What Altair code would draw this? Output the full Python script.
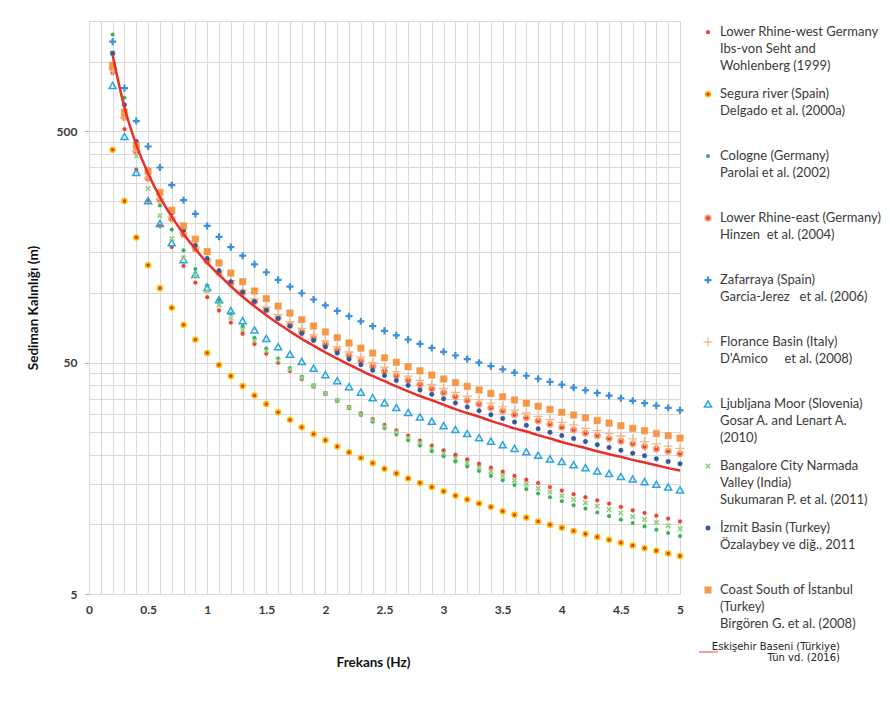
import altair as alt
import pandas as pd

# ---------------- data ----------------
freq = [0.2, 0.3, 0.4, 0.5, 0.6, 0.7, 0.8, 0.9, 1.0,
        1.1, 1.2, 1.3, 1.4, 1.5, 1.6, 1.7, 1.8, 1.9, 2.0,
        2.1, 2.2, 2.3, 2.4, 2.5, 2.6, 2.7, 2.8, 2.9, 3.0,
        3.1, 3.2, 3.3, 3.4, 3.5, 3.6, 3.7, 3.8, 3.9, 4.0,
        4.1, 4.2, 4.3, 4.4, 4.5, 4.6, 4.7, 4.8, 4.9, 5.0]

ibs_1999 = [896, 511, 342, 251, 195, 158, 131, 111, 96.0,
            84.1, 74.5, 66.7, 60.2, 54.7, 50.0, 46.0, 42.5, 39.4, 36.7,
            34.3, 32.1, 30.2, 28.5, 26.9, 25.5, 24.2, 23.0, 21.9, 20.9,
            20.0, 19.1, 18.3, 17.6, 16.9, 16.2, 15.6, 15.1, 14.5, 14.0,
            13.5, 13.1, 12.7, 12.3, 11.9, 11.5, 11.2, 10.9, 10.6, 10.3]
delgado_2000 = [416, 250, 174, 132, 105, 86.3, 72.9, 62.9, 55.1,
                48.9, 43.8, 39.6, 36.1, 33.1, 30.5, 28.3, 26.3, 24.6, 23.1,
                21.7, 20.5, 19.4, 18.4, 17.4, 16.6, 15.8, 15.1, 14.5, 13.9,
                13.3, 12.8, 12.3, 11.9, 11.4, 11.0, 10.7, 10.3, 9.97, 9.66,
                9.37, 9.09, 8.82, 8.57, 8.33, 8.11, 7.89, 7.69, 7.49, 7.30]
parolai_2002 = [1311, 699, 447, 316, 239, 188, 153, 127, 108,
                93.2, 81.4, 71.9, 64.1, 57.6, 52.1, 47.4, 43.4, 39.9, 36.9,
                34.2, 31.8, 29.7, 27.8, 26.1, 24.5, 23.1, 21.9, 20.7, 19.7,
                18.7, 17.8, 17.0, 16.2, 15.5, 14.8, 14.2, 13.6, 13.1, 12.6,
                12.1, 11.7, 11.25, 10.85, 10.48, 10.13, 9.80, 9.48, 9.18, 8.90]
hinzen_2004 = [930, 574, 408, 313, 252, 209, 179, 155, 137,
               122, 110, 100, 91.8, 84.6, 78.3, 72.9, 68.1, 63.8, 60.0,
               56.7, 53.6, 50.9, 48.3, 46.0, 43.9, 42.0, 40.2, 38.6, 37.1,
               35.6, 34.3, 33.1, 31.9, 30.9, 29.8, 28.9, 28.0, 27.1, 26.3,
               25.6, 24.8, 24.2, 23.5, 22.9, 22.3, 21.7, 21.2, 20.7, 20.2]
garcia_2006 = [1222, 769, 554, 430, 349, 293, 252, 220, 195,
               175, 158, 145, 133, 123, 114, 106.5, 99.8, 93.8, 88.5,
               83.7, 79.4, 75.5, 71.9, 68.6, 65.6, 62.9, 60.3, 57.9, 55.7,
               53.7, 51.8, 50.0, 48.3, 46.8, 45.3, 43.9, 42.6, 41.3, 40.2,
               39.0, 38.0, 37.0, 36.0, 35.1, 34.2, 33.4, 32.6, 31.9, 31.1]
damico_2008 = [923, 574, 410, 315, 255, 213, 182, 158, 140,
               125, 113, 103, 94.4, 87.1, 80.7, 75.2, 70.3, 66.0, 62.1,
               58.7, 55.6, 52.8, 50.2, 47.8, 45.7, 43.7, 41.9, 40.3, 38.7,
               37.2, 35.8, 34.6, 33.4, 32.3, 31.2, 30.3, 29.3, 28.4, 27.6,
               26.9, 26.0, 25.4, 24.7, 24.1, 23.4, 22.8, 22.3, 21.8, 21.3]
gosar_2010 = [789, 475, 332, 251, 200, 165, 139.5, 120.4, 105.5,
              93.7, 84.0, 76.0, 69.3, 63.6, 58.6, 54.4, 50.6, 47.3, 44.4,
              41.8, 39.4, 37.3, 35.3, 33.6, 32.0, 30.5, 29.1, 27.9, 26.7,
              25.7, 24.7, 23.7, 22.9, 22.1, 21.3, 20.6, 19.9, 19.2, 18.7,
              18.1, 17.6, 17.0, 16.6, 16.1, 15.7, 15.3, 14.9, 14.5, 14.1]
sukumaran_2011 = [1087, 599, 392, 283, 216, 172, 142, 119, 102,
                  88.7, 78.0, 69.4, 62.2, 56.2, 51.1, 46.8, 43.0, 39.7, 36.8,
                  34.3, 32.0, 30.0, 28.2, 26.5, 25.0, 23.7, 22.5, 21.3, 20.3,
                  19.3, 18.4, 17.6, 16.9, 16.2, 15.5, 14.9, 14.3, 13.8, 13.3,
                  12.8, 12.4, 12.0, 11.6, 11.2, 10.8, 10.5, 10.2, 9.87, 9.57]
ozalaybey_2011 = [1089, 651, 452, 340, 270, 222, 187, 161, 141,
                  125, 112, 101, 92.0, 84.3, 77.6, 71.9, 66.8, 62.4, 58.5,
                  55.0, 51.8, 49.0, 46.4, 44.0, 41.9, 39.9, 38.1, 36.5, 34.9,
                  33.5, 32.2, 31.0, 29.8, 28.7, 27.7, 26.8, 25.9, 25.0, 24.2,
                  23.5, 22.8, 22.1, 21.5, 20.9, 20.3, 19.8, 19.2, 18.7, 18.3]
birgoren_2008 = [966, 605, 434, 336, 272, 228, 195, 171, 151,
                 135, 122, 112, 102, 94.6, 87.8, 81.9, 76.7, 72.0, 67.9,
                 64.2, 60.8, 57.8, 55.0, 52.5, 50.2, 48.0, 46.1, 44.2, 42.5,
                 41.0, 39.5, 38.1, 36.8, 35.6, 34.5, 33.4, 32.4, 31.4, 30.5,
                 29.7, 28.9, 28.1, 27.4, 26.7, 26.0, 25.4, 24.7, 24.2, 23.6]
tun_2016 = [1068, 634, 438, 329, 260, 214, 180, 155, 135,
            120, 107, 96.4, 87.6, 80.2, 73.8, 68.3, 63.4, 59.2, 55.4,
            52.1, 49.0, 46.3, 43.8, 41.6, 39.5, 37.6, 35.9, 34.4, 32.9,
            31.5, 30.3, 29.2, 28.0, 27.0, 26.0, 25.2, 24.3, 23.5, 22.7,
            22.0, 21.4, 20.7, 20.1, 19.6, 19.0, 18.5, 18.0, 17.5, 17.1]

NB = "\u00a0"
series_keys = ["ibs", "delgado", "parolai", "hinzen", "garcia", "damico",
               "gosar", "sukumaran", "ozalaybey", "birgoren"]
series_labels = [
    "Lower Rhine-west Germany\nIbs-von Seht and\nWohlenberg (1999)",
    "Segura river (Spain)\nDelgado et al. (2000a)",
    "Cologne (Germany)\nParolai et al. (2002)",
    "Lower Rhine-east (Germany)\nHinzen" + NB + NB + "et al. (2004)",
    "Zafarraya (Spain)\nGarcia-Jerez" + NB * 3 + "et al. (2006)",
    "Florance Basin (Italy)\nD'Amico" + NB * 5 + "et al. (2008)",
    "Ljubljana Moor (Slovenia)\nGosar A. and Lenart A.\n(2010)",
    "Bangalore City Narmada\nValley (India)\nSukumaran P. et al. (2011)",
    "İzmit Basin (Turkey)\nÖzalaybey ve diğ., 2011",
    "Coast South of İstanbul\n(Turkey)\nBirgören G. et al. (2008)",
]
line_label = "Eskişehir Baseni (Türkiye)\nTün vd. (2016)"
series_values = [ibs_1999, delgado_2000, parolai_2002, hinzen_2004, garcia_2006,
                 damico_2008, gosar_2010, sukumaran_2011, ozalaybey_2011, birgoren_2008]

y_grid = [5, 10, 15, 20, 25, 30, 35, 40, 45, 50, 100, 150, 200, 250, 300, 350,
          400, 450, 500, 1000, 1500]
y_labels = [5, 50, 500]
x_grid = [round(i / 10, 1) for i in range(51)]

# ---------------- styles ----------------
fills = ["#ee4035", "#e8352a", "#38ad5c", "#e8413a", "transparent", "transparent",
         "transparent", "transparent", "#33589c", "#f79646"]
strokes = ["#ee4035", "#f7c200", "#38ad5c", "#f4a36f", "#3d8fd8", "#f7b487",
           "#27a6e0", "#8fd081", "#33589c", "#f79646"]
plus_path = "M-1,0H1M0,-1V1"
x_path = "M-1,-1L1,1M-1,1L1,-1"
shapes = ["circle", "circle", "circle", "circle", plus_path, plus_path,
          "triangle-up", x_path, "circle", "square"]
sizes = [14, 24, 13, 30, 50, 80, 50, 20, 20, 42]
widths = [0.5, 1.6, 0.5, 1.8, 2.2, 1.3, 1.5, 1.6, 0.5, 0.5]
line_red = "#e8302a"
txt = "#3a3a3a"
font = "Lato"


def sc(rng, typ=None):
    if typ:
        return alt.Scale(type=typ, domain=series_keys, range=rng)
    return alt.Scale(domain=series_keys, range=rng)


def style_enc():
    return dict(
        fill=alt.Fill("series:N", scale=sc(fills), legend=None),
        stroke=alt.Stroke("series:N", scale=sc(strokes), legend=None),
        shape=alt.Shape("series:N", scale=sc(shapes), legend=None),
        size=alt.Size("series:N", scale=sc(sizes, "ordinal"), legend=None),
        strokeWidth=alt.StrokeWidth("series:N", scale=sc(widths, "ordinal"), legend=None),
    )


records = []
for key, vals in zip(series_keys, series_values):
    for f, v in zip(freq, vals):
        records.append({"series": key, "f": f, "h": v})
points = pd.DataFrame(records)
line_df = pd.DataFrame({"f": freq, "h": tun_2016})

x_axis = alt.Axis(
    values=x_grid, format=".1~f",
    labelExpr="abs(datum.value * 2 - round(datum.value * 2)) < 0.001 ? datum.label : ''",
    labelFlush=False, labelOverlap=False, labelFont=font, labelFontSize=12,
    labelFontWeight="bold", labelColor=txt, labelPadding=6,
    tickSize=4, tickColor="transparent",
    gridColor="#d9d9d9", gridWidth=1, domainColor="#d9d9d9",
    title="Frekans (Hz)", titleFont=font, titleFontSize=13.5, titleFontWeight="bold",
    titleColor="#111111", titlePadding=40, titleX=284,
)
y_axis = alt.Axis(
    values=y_grid, format="d",
    labelExpr="indexof(%s, datum.value) >= 0 ? datum.label : ''" % str(y_labels),
    labelOverlap=False, labelFlush=False, labelFont=font, labelFontSize=12,
    labelFontWeight="bold", labelColor=txt, labelPadding=8,
    tickSize=4,
    tickColor={"condition": {"test": "indexof(%s, datum.value) >= 0" % str(y_labels),
                             "value": "#a6a6a6"}, "value": "transparent"},
    gridColor="#d9d9d9", gridWidth=1, domainColor="#d9d9d9",
    title="Sediman Kalınlığı (m)", titleFont=font, titleFontSize=13.5,
    titleFontWeight="bold", titleColor="#111111", titlePadding=16,
)


def x_enc():
    return alt.X("f:Q", scale=alt.Scale(domain=[0, 5], nice=False, zero=False), axis=x_axis)


def y_enc():
    return alt.Y("h:Q", scale=alt.Scale(type="log", domain=[5, 1500], nice=False), axis=y_axis)


pts = alt.Chart(points).mark_point(opacity=1).encode(x=x_enc(), y=y_enc(), **style_enc())
ln = alt.Chart(line_df).mark_line(color=line_red, strokeWidth=2.5, interpolate="monotone").encode(
    x=x_enc(), y=y_enc())
plot = alt.layer(pts, ln).properties(
    width=591, height=573,
    view=alt.ViewBackground(stroke="#d9d9d9", strokeWidth=1),
)

# ---------------- legend panel ----------------
leg = pd.DataFrame({"idx": list(range(len(series_keys))), "series": series_keys,
                    "label": series_labels})
leg_line = pd.DataFrame({"idx": [len(series_keys)], "label": [line_label]})
leg_y = alt.Y("idx:Q", scale=alt.Scale(domain=[-0.18, 10.42], reverse=True, nice=False, zero=False),
              axis=None)

leg_sym = alt.Chart(leg).mark_point(opacity=1).encode(x=alt.value(18), y=leg_y, **style_enc())
leg_txt = alt.Chart(leg).mark_text(
    align="left", baseline="top", lineBreak="\n", lineHeight=17,
    font=font, fontSize=13, color=txt, dy=-6,
).encode(x=alt.value(30), y=leg_y, text="label:N")
leg_rule = alt.Chart(leg_line).mark_rule(color="#f07070", strokeWidth=1.3).encode(
    x=alt.value(9), x2=alt.value(28), y=leg_y)
leg_ltxt = alt.Chart(leg_line).mark_text(
    align="right", baseline="top", lineBreak="\n", lineHeight=11,
    font="DejaVu Sans", fontSize=10, color="#222222", dy=-10,
).encode(x=alt.value(150), y=leg_y, text="label:N")

legend = alt.layer(leg_sym, leg_txt, leg_rule, leg_ltxt).properties(
    width=172, height=657,
    view=alt.ViewBackground(stroke="transparent"),
)

chart = alt.hconcat(plot, legend, spacing=0).properties(
    padding={"left": 17, "top": 6, "right": 0, "bottom": 0},
    background="white",
).configure_axisX(labelOverlap=False)

chart.save("out.html", embed_options={"renderer": "svg", "actions": False})
